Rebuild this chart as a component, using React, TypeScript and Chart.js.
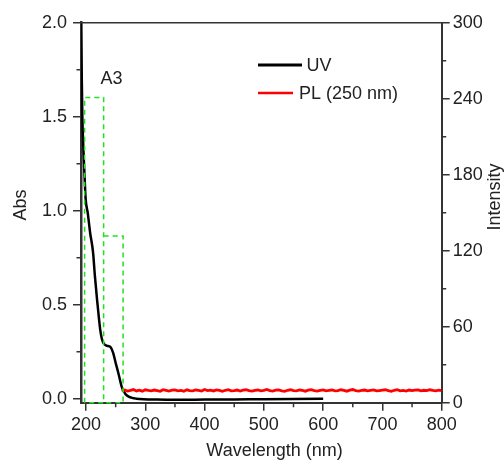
import React, { useEffect, useRef } from "react";
import { Chart, registerables } from "chart.js";

Chart.register(...registerables);

// ---- data ----
const UV_WAVELENGTH = [191.5, 192.5, 193.8, 195.5, 197, 199.4, 202.8, 207, 211.8, 215, 218.5, 222, 223.8, 225.6, 227.5, 229.7, 232.5, 235.5, 241, 245.6, 250, 255, 260.8, 266.4, 272, 277.7, 285, 297, 320, 350, 400, 450, 500, 550, 600];
const UV_ABS = [2.0, 1.78, 1.5, 1.33, 1.22, 1.06, 0.99, 0.88, 0.78, 0.65, 0.53, 0.42, 0.37, 0.335, 0.31, 0.294, 0.285, 0.281, 0.275, 0.245, 0.19, 0.13, 0.057, 0.025, 0.011, 0.004, 0.0, -0.003, -0.005, -0.006, -0.005, -0.004, -0.003, -0.002, -0.001];

const PL_START = 260;
const PL_STEP = 5;
const PL_INTENSITY = [
  9.6, 10.1, 9.2, 9.8, 10.4, 9.3, 9.9, 9.1, 10.2, 9.7,
  9.4, 10.0, 9.5, 9.0, 10.3, 9.8, 9.2, 9.9, 10.1, 9.4,
  9.7, 9.1, 10.2, 9.6, 9.3, 10.0, 9.8, 9.2, 10.4, 9.5,
  9.9, 9.3, 10.1, 9.7, 9.0, 9.8, 10.3, 9.4, 9.6, 10.0,
  9.2, 9.9, 10.2, 9.5, 9.1, 9.8, 10.0, 9.3, 9.7, 10.4,
  9.6, 9.2, 9.9, 10.1, 9.4, 9.0, 9.8, 10.2, 9.5, 9.3,
  10.0, 9.7, 9.1, 9.9, 10.3, 9.6, 9.2, 9.8, 10.1, 9.4,
  9.7, 10.0, 9.3, 9.5, 10.2, 9.8, 9.1, 9.9, 10.4, 9.6,
  9.2, 9.7, 10.0, 9.4, 9.8, 10.1, 9.3, 9.6, 9.9, 10.2,
  9.5, 9.0, 9.8, 10.3, 9.4, 9.7, 9.2, 10.0, 9.6, 9.9,
  10.1, 9.3, 9.8, 9.5, 10.2, 9.7, 9.4, 9.9, 9.6,
];

// green dashed boxes (x in nm, y on intensity axis)
const BOX1_X = [197.6, 197.6, 229.7, 229.7, 197.6];
const BOX1_Y = [0, 241, 241, 0, 0];
const BOX2_X = [229.7, 262.5, 262.5, 229.7];
const BOX2_Y = [131.6, 131.6, 0, 0];

// ticks
const X_TICKS = [200, 300, 400, 500, 600, 700, 800];
const X_MINOR = [250, 350, 450, 550, 650, 750];
const Y_TICKS = [0, 0.5, 1.0, 1.5, 2.0];
const Y_TICK_LABELS = ["0.0", "0.5", "1.0", "1.5", "2.0"];
const Y_MINOR = [0.25, 0.75, 1.25, 1.75];
const Y2_TICKS = [0, 60, 120, 180, 240, 300];
const Y2_MINOR = [30, 90, 150, 210, 270];

// labels
const X_TITLE = "Wavelength (nm)";
const Y_TITLE = "Abs";
const Y2_TITLE = "Intensity";
const SAMPLE_LABEL = "A3";
const LEGEND_LABELS = ["UV", "PL (250 nm)"];

const FONT = "'Liberation Sans', Arial, Helvetica, sans-serif";
const AXIS_COLOR = "#333";
const TEXT_COLOR = "#222";

const decorPlugin = {
  id: "decor",
  afterDraw(chart: any) {
    const { ctx, chartArea, scales } = chart;
    const { left, right, top, bottom } = chartArea;
    ctx.save();
    // top border
    ctx.strokeStyle = AXIS_COLOR;
    ctx.lineWidth = 1.5;
    ctx.beginPath();
    ctx.moveTo(left, top);
    ctx.lineTo(right, top);
    ctx.stroke();
    // minor ticks
    ctx.lineWidth = 1.5;
    ctx.beginPath();
    for (const v of X_MINOR) {
      const px = scales.x.getPixelForValue(v);
      ctx.moveTo(px, bottom);
      ctx.lineTo(px, bottom + 4.5);
    }
    for (const v of Y_MINOR) {
      const py = scales.y.getPixelForValue(v);
      ctx.moveTo(left, py);
      ctx.lineTo(left - 4.5, py);
    }
    for (const v of Y2_MINOR) {
      const py = scales.y2.getPixelForValue(v);
      ctx.moveTo(right, py);
      ctx.lineTo(right + 4.5, py);
    }
    ctx.stroke();

    // texts
    ctx.fillStyle = TEXT_COLOR;
    ctx.font = `18px ${FONT}`;
    ctx.textBaseline = "middle";
    ctx.textAlign = "center";
    ctx.fillText(X_TITLE, 274.5, 451.5);

    ctx.save();
    ctx.translate(21, 205);
    ctx.rotate(-Math.PI / 2);
    ctx.fillText(Y_TITLE, 0, 0);
    ctx.restore();

    ctx.save();
    ctx.translate(495.5, 197);
    ctx.rotate(-Math.PI / 2);
    ctx.fillText(Y2_TITLE, 0, 0);
    ctx.restore();

    ctx.textAlign = "left";
    ctx.fillText(SAMPLE_LABEL, 100.5, 79);

    // legend
    ctx.lineWidth = 3;
    ctx.strokeStyle = "#000";
    ctx.beginPath();
    ctx.moveTo(258, 65);
    ctx.lineTo(302, 65);
    ctx.stroke();
    ctx.fillText(LEGEND_LABELS[0], 306.5, 66);
    ctx.strokeStyle = "#ff0000";
    ctx.lineWidth = 2.5;
    ctx.beginPath();
    ctx.moveTo(258, 93);
    ctx.lineTo(293, 93);
    ctx.stroke();
    ctx.fillText(LEGEND_LABELS[1], 299, 94);
    ctx.restore();
  },
};

export default function App() {
  const ref = useRef<HTMLCanvasElement | null>(null);

  useEffect(() => {
    if (!ref.current) return;
    const uvData = UV_WAVELENGTH.map((x, i) => ({ x, y: UV_ABS[i] }));
    const plData = PL_INTENSITY.map((y, i) => ({ x: PL_START + i * PL_STEP, y }));
    const box1 = BOX1_X.map((x, i) => ({ x, y: BOX1_Y[i] }));
    const box2 = BOX2_X.map((x, i) => ({ x, y: BOX2_Y[i] }));
    const green = "#22e022";

    const chart = new Chart(ref.current, {
      type: "line",
      data: {
        datasets: [
          {
            label: "box1",
            data: box1,
            yAxisID: "y2",
            borderColor: green,
            borderWidth: 1.5,
            borderDash: [5, 4],
            pointRadius: 0,
            tension: 0,
            clip: false as any,
          },
          {
            label: "box2",
            data: box2,
            yAxisID: "y2",
            borderColor: green,
            borderWidth: 1.5,
            borderDash: [5, 4],
            pointRadius: 0,
            tension: 0,
            clip: false as any,
          },
          {
            label: LEGEND_LABELS[1],
            data: plData,
            yAxisID: "y2",
            borderColor: "#ff0000",
            borderWidth: 2.8,
            pointRadius: 0,
            tension: 0,
          },
          {
            label: LEGEND_LABELS[0],
            data: uvData,
            yAxisID: "y",
            borderColor: "#000",
            borderWidth: 2.5,
            pointRadius: 0,
            cubicInterpolationMode: "monotone",
          },
        ],
      },
      options: {
        animation: false,
        responsive: false,
        layout: { padding: { top: 22.7, left: 0, right: 0, bottom: 0 } },
        plugins: { legend: { display: false }, tooltip: { enabled: false } },
        scales: {
          x: {
            type: "linear",
            min: 191.5,
            max: 800,
            afterBuildTicks: (s: any) => {
              s.ticks = X_TICKS.map((v) => ({ value: v }));
            },
            afterFit: (s: any) => {
              s.height = 61.3;
            },
            grid: { drawOnChartArea: false, drawTicks: true, tickLength: 8, color: AXIS_COLOR, lineWidth: 1.5 },
            border: { display: true, color: AXIS_COLOR, width: 2 },
            ticks: { color: TEXT_COLOR, font: { family: FONT, size: 18 }, padding: 4, maxRotation: 0, autoSkip: false },
          },
          y: {
            type: "linear",
            position: "left",
            min: -0.0215,
            max: 2.0,
            afterBuildTicks: (s: any) => {
              s.ticks = Y_TICKS.map((v) => ({ value: v }));
            },
            afterFit: (s: any) => {
              s.width = 81;
            },
            grid: { drawOnChartArea: false, drawTicks: true, tickLength: 8, color: AXIS_COLOR, lineWidth: 1.5 },
            border: { display: true, color: AXIS_COLOR, width: 2.5 },
            ticks: {
              color: TEXT_COLOR,
              font: { family: FONT, size: 18 },
              padding: 6,
              autoSkip: false,
              callback: (_v: any, i: number) => Y_TICK_LABELS[i],
            },
          },
          y2: {
            type: "linear",
            position: "right",
            min: 0,
            max: 300,
            afterBuildTicks: (s: any) => {
              s.ticks = Y2_TICKS.map((v) => ({ value: v }));
            },
            afterFit: (s: any) => {
              s.width = 62.3;
            },
            grid: { drawOnChartArea: false, drawTicks: true, tickLength: 8, color: AXIS_COLOR, lineWidth: 1.5 },
            border: { display: true, color: AXIS_COLOR, width: 2 },
            ticks: { color: TEXT_COLOR, font: { family: FONT, size: 18 }, padding: 3, autoSkip: false },
          },
        },
      } as any,
      plugins: [decorPlugin],
    });
    return () => chart.destroy();
  }, []);

  return (
    <div style={{ position: "absolute", left: 0, top: 0, width: 504, height: 464, background: "#fff" }}>
      <canvas ref={ref} width={504} height={464} style={{ display: "block" }} />
    </div>
  );
}
